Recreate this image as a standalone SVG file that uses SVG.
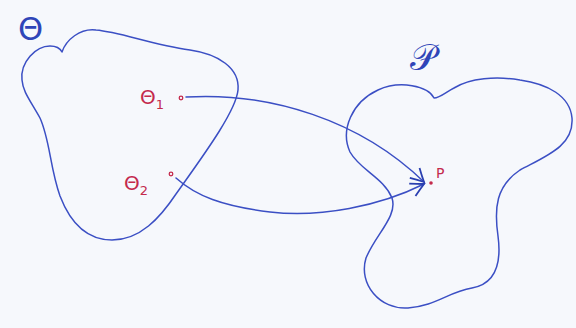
<svg xmlns="http://www.w3.org/2000/svg" width="576" height="328" viewBox="0 0 576 328">
<style>
.ink{fill:none;stroke:#3b4fc4;stroke-width:1.5;stroke-linecap:round;stroke-linejoin:round}
.red{fill:#c42a4c;font-family:"DejaVu Sans",sans-serif}
.lbl{fill:#2f45b8;font-family:"DejaVu Sans",sans-serif}
.dot{fill:none;stroke:#c42a4c;stroke-width:1.3}
</style>
<defs>
<marker id="ah" viewBox="0 0 16 16" refX="14" refY="8" markerWidth="16" markerHeight="16" markerUnits="userSpaceOnUse" orient="auto">
<path d="M1,1 Q8,5 14,8 Q8,11 1,15" fill="none" stroke="#2a3fb0" stroke-width="1.8"/>
</marker>
</defs>
<rect width="576" height="328" fill="#f6f8fc"/>
<g id="space-theta">
<path class="ink" d="M22,80 C20,62 36,46 50,46 C56,46 60,48 62,52 C66,40 80,28 96,30 C120,32 150,44 190,50 C218,54 240,68 238,90 C236,112 200,160 176,194 C160,218 140,240 112,240 C86,240 70,222 60,196 C50,168 50,140 40,118 C30,100 23,92 22,80 Z"/>
<text class="lbl" x="18" y="40" font-size="32">Θ</text>
</g>
<g id="space-p">
<path class="ink" d="M434,98 C428,86 400,80 378,90 C352,102 340,130 350,152 C360,170 384,178 392,198 C398,216 376,234 366,258 C358,284 380,310 408,308 C436,306 448,292 472,288 C494,284 502,266 498,236 C494,208 496,186 520,170 C546,156 574,146 572,118 C570,96 548,84 520,80 C496,76 470,78 454,88 C446,92 440,98 434,98 Z"/>
<text class="lbl" x="410" y="70" font-size="36">𝒫</text>
</g>
<g id="theta1">
<text class="red" x="140" y="104" font-size="20">Θ<tspan font-size="13" dy="5">1</tspan></text>
<circle class="dot" cx="181" cy="98" r="1.8"/>
</g>
<g id="theta2">
<text class="red" x="124" y="190" font-size="20">Θ<tspan font-size="13" dy="5">2</tspan></text>
<circle class="dot" cx="171" cy="174" r="1.8"/>
</g>
<g id="point-p">
<circle cx="431" cy="183" r="1.8" fill="#c42a4c"/>
<text class="red" x="436" y="178" font-size="14">P</text>
</g>
<g id="connectors">
<path class="ink" d="M186,97 C270,92 360,120 424,182" marker-end="url(#ah)"/>
<path class="ink" d="M176,178 C196,196 222,206 270,212 C320,218 380,206 424,184" marker-end="url(#ah)"/>
</g>
</svg>
